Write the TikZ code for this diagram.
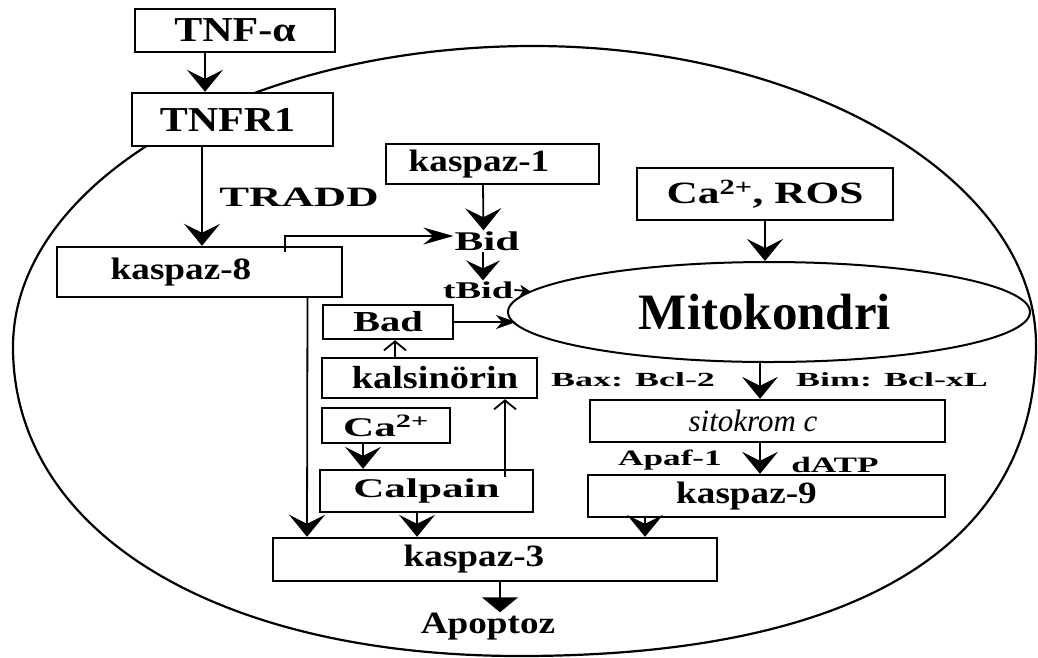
\documentclass[tikz,border=0pt]{standalone}
\usepackage{fontspec}
\setmainfont{Liberation Serif}
\newfontfamily\fA[FakeStretch=1.2]{Liberation Serif}
\newfontfamily\fB[FakeStretch=1.4]{Liberation Serif}
\newfontfamily\fC[FakeStretch=1.6]{Liberation Serif}
\newfontfamily\fD[FakeStretch=1.8]{Liberation Serif}
\usetikzlibrary{arrows.meta,shapes.geometric}
\newcommand\fsz[1]{\fontsize{#1}{#1}\selectfont}
\begin{document}
\begin{tikzpicture}[x=1pt,y=-1pt,
  box/.style={draw, line width=2.4pt, fill=white, rectangle, inner sep=0pt},
  lbl/.style={inner sep=1pt},
  conn/.style={line width=1.8pt},
  bigarrow/.style={conn, -{Stealth[length=22pt,width=36pt,inset=9pt]}},
  midarrow/.style={conn, -{Stealth[length=20pt,width=34pt,inset=8pt]}},
  longarrow/.style={conn, -{Stealth[length=30pt,width=17pt,inset=10pt]}},
  narrowarrow/.style={conn, -{Stealth[length=20pt,width=14pt,inset=6pt]}},
  tinyarrow/.style={conn, -{Stealth[length=10pt,width=11pt,inset=3pt]}},
  openarrow/.style={line width=1.8pt, -{Straight Barb[length=9pt,width=22pt]}},
  triarrow/.style={conn, -{Triangle[length=15pt,width=36pt]}}
]
\fill[white] (0,0) rectangle (1038,657);
\useasboundingbox (0,0) rectangle (1038,657);

% cell outline
\draw[line width=2.2pt] (533,46) .. controls (810,46) and (1036,181) .. (1036,345)
  .. controls (1036,547) and (855,656) .. (520,656)
  .. controls (216,656) and (13,532) .. (13,347)
  .. controls (13,181) and (247,46) .. (533,46) -- cycle;

% boxes
\node[box, minimum width=200pt, minimum height=43pt, font=\fA\bfseries\fsz{35}] (tnf) at (235,30.5) {TNF-α};
\node[box, minimum width=201pt, minimum height=53pt, font=\fA\bfseries\fsz{35}] (tnfr) at (232.5,119.5) {\hspace*{-10pt}TNFR1};
\node[box, minimum width=285pt, minimum height=50pt, font=\fA\bfseries\fsz{31}] (k8) at (199.5,272) {\hspace*{-37pt}kaspaz-8};
\node[box, minimum width=213pt, minimum height=40pt, font=\fA\bfseries\fsz{31}] (k1) at (492.5,164) {\hspace*{-27pt}kaspaz-1};
\node[box, minimum width=256pt, minimum height=52pt, font=\fB\bfseries\fsz{31}] (caros) at (765,194) {Ca\textsuperscript{2+}, ROS};
\node[draw, ellipse, line width=2pt, minimum width=522pt, minimum height=100pt, inner sep=0pt, font=\bfseries\fsz{51}] (mito) at (769,312) {\hspace*{-8pt}Mitokondri};
\node[box, minimum width=130pt, minimum height=34pt, font=\fB\bfseries\fsz{29}] (bad) at (388,322) {Bad};
\node[box, minimum width=215pt, minimum height=40pt, font=\fA\bfseries\fsz{32}] (kal) at (429.5,378) {\hspace*{11pt}kalsinörin};
\node[box, minimum width=128pt, minimum height=35pt, font=\fC\bfseries\fsz{27}] (ca) at (386,425.5) {Ca\textsuperscript{2+}};
\node[box, minimum width=213pt, minimum height=42pt, font=\fC\bfseries\fsz{27}] (calp) at (426.5,491) {Calpain};
\node[box, minimum width=355pt, minimum height=42pt, font=\itshape\fsz{31}] (sito) at (767.5,421) {\hspace*{-29pt}sitokrom c};
\node[box, minimum width=357pt, minimum height=42pt, font=\fA\bfseries\fsz{31}] (k9) at (766.5,496) {\hspace*{-40pt}kaspaz-9};
\node[box, minimum width=444pt, minimum height=43pt, font=\fA\bfseries\fsz{31}] (k3) at (495,559.5) {\hspace*{-42pt}kaspaz-3};

% free labels
\node[lbl, font=\fA\bfseries\fsz{31}] (apop) at (488,627) {Apoptoz};
\node[lbl, font=\fC\bfseries\fsz{28}] (tradd) at (299,197) {TRADD};
\node[lbl, font=\fC\bfseries\fsz{27}] (bid) at (487,241) {Bid};
\node[lbl, font=\fC\bfseries\fsz{24}] (tbid) at (478,290) {tBid};
\node[lbl, font=\fD\bfseries\fsz{20}] (bax) at (633,380) {Bax: Bcl-2};
\node[lbl, font=\fD\bfseries\fsz{20}] (bim) at (892,380) {Bim: Bcl-xL};
\node[lbl, font=\fC\bfseries\fsz{22}] (apaf) at (670,460) {Apaf-1};
\node[lbl, font=\fC\bfseries\fsz{22}] (datp) at (835,465) {dATP};

% connectors
\draw[bigarrow] ([xshift=-30pt]tnf.south) -- ([xshift=-27.5pt]tnfr.north);
\draw[bigarrow] ([xshift=-30.5pt]tnfr.south) -- ([xshift=2.5pt]k8.north);
\draw[longarrow] ([xshift=85.5pt,yshift=-6pt]k8.north) |- ([yshift=5pt]bid.west);
\draw[bigarrow] ([xshift=-9.5pt]k1.south) -- ([xshift=-3.5pt]bid.north);
\draw[midarrow] ([xshift=-4pt]bid.south) -- ([xshift=5pt]tbid.north);
\draw[tinyarrow] (tbid.east) -- (mito.175);
\draw[narrowarrow] (bad.east) -- (bad.east -| mito.183);
\draw[bigarrow] (caros.south) -- (caros.south |- mito.north);
\draw[bigarrow] ([xshift=-9pt]mito.south) -- ([xshift=-7.5pt]sito.north);
\draw[bigarrow] ([xshift=-7.5pt]sito.south) -- ([xshift=-6.5pt]k9.north);
\draw[bigarrow] ([xshift=-121.5pt]k9.south) -- ([xshift=150pt]k3.north);
\draw[bigarrow] ([xshift=108pt]k8.south) -- ([xshift=-188pt]k3.north);
\draw[bigarrow] ([xshift=-9.5pt]calp.south) -- ([xshift=-78pt]k3.north);
\draw[bigarrow] ([xshift=-23pt]ca.south) -- ([xshift=-63.5pt]calp.north);
\draw[openarrow] ([xshift=-34.5pt]kal.north) -- ([xshift=7pt]bad.south);
\draw[openarrow] ([xshift=78.5pt,yshift=-8pt]calp.north) -- ([xshift=75.5pt]kal.south);
\draw[triarrow] ([xshift=5pt]k3.south) -- ([xshift=12pt]apop.north);
\end{tikzpicture}
\end{document}
